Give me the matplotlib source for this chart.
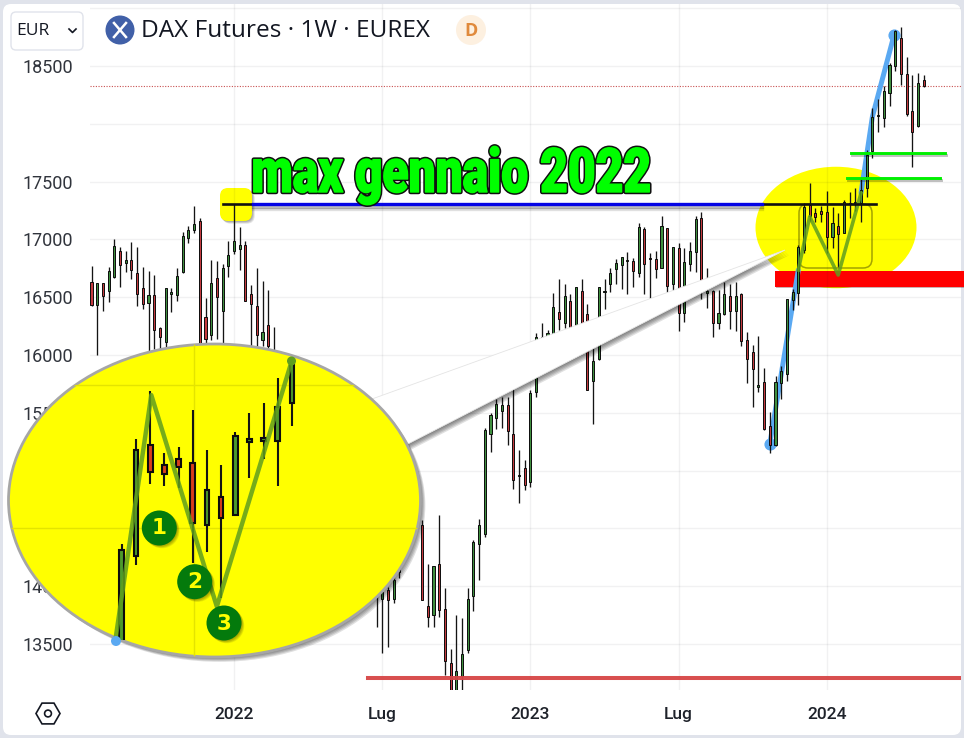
import numpy as np
import matplotlib
matplotlib.use("Agg")
import matplotlib.pyplot as plt
import matplotlib.patheffects as pe
from matplotlib.colors import to_rgb
from matplotlib.patches import Ellipse, FancyBboxPatch, Polygon, Circle, RegularPolygon, Rectangle
from matplotlib.transforms import Affine2D

# week number counted from the first candle of 2022 (the missing weeks sit behind the big yellow ellipse)
weeks = list(range(-25, 8)) + list(range(25, 30)) + list(range(33, 122))
opens = [16634,16435,16619,16555,16678,16903,16795,16824,16713,16576,
         16453,16523,16231,16114,16532,16523,16716,17014,17081,17160,
         16333,16173,16663,16377,16771,16903,16917,16955,16532,16421,
         16132,16263,15950,
         13950,13891,13969,13891,14120,14527,13833,13755,14188,13804,
         13336,13000,13220,13449,13914,14362,14454,15321,15451,15518,
         15567,15313,14954,15027,14902,15683,16072,16072,16159,16369,
         16274,16470,16251,16557,16355,15778,15963,16542,16615,16741,
         16779,16816,16816,16707,17087,16836,16828,16750,17096,16615,
         16923,16367,16785,16888,17188,16540,16557,16274,16355,16514,
         16384,16528,16130,16023,15727,15770,15389,15222,15755,15836,
         16476,16540,16909,17298,17226,17249,17234,17018,17116,17053,
         17309,17312,17312,17442,17768,18068,18048,18270,18503,18745,
         18428,18114,17984,18379]
highs = [16774,16619,16619,16765,17000,16935,16903,16976,16932,16765,
         16730,16690,16240,16584,16584,16757,17066,17116,17285,17189,
         16494,16824,16809,16786,16990,17306,17107,16984,16605,16757,
         16640,16561,16246,
         13970,13963,13992,14079,14252,14570,14194,14171,14613,13986,
         13457,13752,13723,13986,14397,14584,15365,15495,15616,15633,
         15639,15760,15177,15096,15697,16188,16274,16217,16540,16655,
         16612,16525,16586,16658,16441,16188,16586,16658,16750,16828,
         16845,16888,16836,17139,17105,16880,16900,17203,17096,16937,
         16966,16923,16975,17205,17240,16750,16563,16563,16629,16614,
         16629,16540,16196,16087,16165,15891,15505,15819,15905,16482,
         16568,16952,17318,17485,17269,17289,17419,17278,17226,17341,
         17407,17442,17529,17774,18140,18212,18327,18523,18812,18840,
         18575,18422,18437,18422]
lows = [16420,16000,16380,16459,16663,16590,16716,16657,16424,16400,
        16021,16050,16056,16059,16371,16468,16707,16970,17057,16000,
        16080,16129,16137,16080,16672,16876,16736,16465,16080,16080,
        16080,16050,15900,
        13645,13423,13472,13856,14073,13882,13645,13645,13738,13232,
        12938,12950,13000,13423,13790,14058,14425,15162,15356,15365,
        15220,14844,14720,14836,14859,15640,15986,15986,16145,16217,
        16231,16231,16245,16268,15698,15401,15957,16398,16542,16615,
        16568,16525,16591,16672,16525,16485,16669,16750,16534,16557,
        16208,16289,16730,16721,16485,16404,16153,16225,16346,16225,
        16211,16081,15761,15554,15683,15352,15156,15216,15620,15776,
        16390,16433,16880,17160,17154,17148,16886,16923,16765,17053,
        17183,17249,17154,17364,17707,17932,17970,18154,18460,18336,
        18068,17624,17970,18321]
closes = [16432,16619,16511,16730,16946,16780,16824,16736,16532,16444,
          16523,16216,16158,16584,16541,16687,17028,17078,17130,16050,
          16138,16619,16503,16757,16862,16984,16955,16468,16444,16173,
          16196,16080,16000,
          13920,13949,13882,14050,14150,13882,13738,14171,13795,13350,
          13050,13269,13414,13891,14382,14527,15350,15480,15573,15567,
          15344,14922,14966,14879,15674,16159,16159,16188,16413,16309,
          16514,16231,16586,16268,15698,15951,16586,16551,16707,16793,
          16845,16822,16727,17105,16785,16828,16744,17116,16597,16932,
          16367,16802,16900,17174,16563,16557,16274,16367,16525,16384,
          16514,16124,15966,15879,15738,15357,15222,15764,15865,16482,
          16548,16932,17278,17203,17197,17220,17024,17139,17044,17327,
          17318,17321,17428,17730,18062,18076,18284,18509,18806,18428,
          18085,17932,18350,18330]

price_ticks = [13500, 14000, 14500, 15000, 15500, 16000, 16500, 17000, 17500, 18000, 18500, 19000]
price_labels = ["13500", "14000", "14500", "15000", "15500", "16000", "16500", "17000", "17500", "", "18500", ""]
time_ticks = [0, 26, 52, 78, 104]
time_labels = ["2022", "Lug", "2023", "Lug", "2024"]

# drawn levels and trend lines on the chart
max_level = 17306
last_price = 18331
floor_level = 13202
green_levels = [17750, 17531]
blue_leg1_w = [94, 99]
blue_leg1_p = [15230, 16735]
blue_leg2_w = [110, 112, 115.8]
blue_leg2_p = [17401, 18061, 18768]
v_weeks = [99, 101, 106, 110]
v_prices = [16735, 17197, 16692, 17400]
inset_v_weeks = [98.6, 101.08, 105.7, 111]
inset_v_prices = [16635, 17471, 16734, 17593]

W, H = 964, 738
fig = plt.figure(figsize=(W / 100, H / 100), dpi=100, facecolor="#e0e3eb")
UI_FONT = ["Open Sans", "DejaVu Sans"]
AXIS_FONT = ["Roboto", "DejaVu Sans"]


def px_axes(z):
    a = fig.add_axes([0, 0, 1, 1], zorder=z)
    a.set_xlim(0, W)
    a.set_ylim(H, 0)
    a.axis("off")
    return a


def rect_axes(x0, y0, x1, y1, z):
    return fig.add_axes([x0 / W, 1 - y1 / H, (x1 - x0) / W, (y1 - y0) / H], zorder=z)


def soft_shadow(d=4, a=0.1):
    fx = [pe.SimplePatchShadow(offset=(d * k / 5, -d * k / 5), alpha=a, shadow_rgbFace="k") for k in (5, 4, 3, 2, 1)]
    return fx + [pe.Normal()]


def candles(ax, width, lw, wick_lw, up, down):
    w = np.array(weeks)
    o, h, l, c = map(np.array, (opens, highs, lows, closes))
    rising = c >= o
    ax.vlines(w, l, h, color="#141414", lw=wick_lw, zorder=4)
    ax.bar(w, np.abs(c - o), width, bottom=np.minimum(o, c), color=np.where(rising, up, down),
           edgecolor="#0c0c0c", linewidth=lw, zorder=5)


# the headline font in the picture is an Impact look-alike, so stretch the glyphs upwards
class TallOutline(pe.AbstractPathEffect):
    def __init__(self, base_y, ky, edge, edge_lw, fat_lw):
        super().__init__()
        self.base_y, self.ky, self.edge, self.edge_lw, self.fat_lw = base_y, ky, to_rgb(edge), edge_lw, fat_lw

    def draw_path(self, renderer, gc, tpath, affine, rgbFace):
        tall = affine + Affine2D().translate(0, -self.base_y).scale(1, self.ky).translate(0, self.base_y)
        for color, lw in ((self.edge, self.edge_lw), (rgbFace[:3], self.fat_lw)):
            g = renderer.new_gc()
            g.copy_properties(gc)
            g.set_foreground(color)
            g.set_linewidth(lw)
            g.set_joinstyle("round")
            renderer.draw_path(g, tpath, tall, color)
            g.restore()
        renderer.draw_path(gc, tpath, tall, rgbFace)


# ---- background layer
under = px_axes(0)
under.add_patch(FancyBboxPatch((7, 8), 950, 723, boxstyle="round,pad=4,rounding_size=8", fc="white", ec="none"))
under.add_patch(Ellipse((836, 227.5), 161, 121.5, fc="#ffff00", ec="none"))
under.add_patch(FancyBboxPatch((804, 209), 63, 54, boxstyle="round,pad=5,rounding_size=9",
                               fc="none", ec=(0.35, 0.35, 0, 0.55), lw=1.1))
under.add_patch(Rectangle((775, 270.5), 189, 16.5, fc="#ff0000", ec="none", zorder=3,
                          path_effects=[pe.SimplePatchShadow(offset=(1, -1), alpha=0.3), pe.Normal()]))
under.add_patch(FancyBboxPatch((225, 193), 22, 23, boxstyle="round,pad=5,rounding_size=8", fc="#ffff00", ec="none",
                               path_effects=soft_shadow(2, 0.08), zorder=3))

# ---- main chart
ax = rect_axes(90, 4, 961, 690, 1)
ax.patch.set_alpha(0)
ax.set_xlim((90 - 234) / 5.7, (961 - 234) / 5.7)
ax.set_ylim(18500 - (690 - 66) * 8.65, 18500 + 62 * 8.65)
ax.set_yticks(price_ticks, price_labels, family=AXIS_FONT, fontsize=13, color="#30343c")
ax.set_xticks(time_ticks, time_labels, family=AXIS_FONT, fontsize=12.5, color="#1e222a", fontweight="medium")
ax.tick_params(length=0)
ax.tick_params(axis="y", pad=12)
ax.tick_params(axis="x", pad=12)
ax.grid(True, color="#131722", alpha=0.06, lw=1)
ax.set_axisbelow(True)
for s in ax.spines.values():
    s.set_visible(False)

ax.axhline(last_price, color="#c85050", lw=0.8, ls=(0, (1, 1.4)), zorder=2)
ax.plot(blue_leg1_w, blue_leg1_p, color="#5aa9f2", lw=3.6, solid_capstyle="round", zorder=3)
ax.plot(blue_leg2_w, blue_leg2_p, color="#5aa9f2", lw=3.6, solid_capstyle="round", zorder=3)
ax.scatter([blue_leg1_w[0], blue_leg2_w[-1]], [blue_leg1_p[0], blue_leg2_p[-1]], s=60, color="#5aa9f2", zorder=3)
candles(ax, 0.38, 0.7, 0.95, "#3f8f3f", "#c43a3f")
ax.plot(v_weeks, v_prices, color="#5f9e1f", lw=2.6, alpha=0.85, zorder=6)
ax.plot([(222.7 - 234) / 5.7, (876 - 234) / 5.7], [max_level, max_level], color="#111111", lw=1.9, zorder=7)
ax.plot([(253 - 234) / 5.7, (762 - 234) / 5.7], [max_level, max_level], color="#0505e6", lw=2.4, zorder=8,
        path_effects=[pe.SimpleLineShadow(offset=(0, -2), alpha=0.25), pe.SimpleLineShadow(offset=(0, -3.5), alpha=0.12), pe.Normal()])
ax.plot([(368 - 234) / 5.7, ax.get_xlim()[1]], [floor_level, floor_level], color="#d64545", lw=2.9, alpha=0.95, zorder=6)
ax.plot([(851 - 234) / 5.7, (945 - 234) / 5.7], [green_levels[0]] * 2, color="#00f000", lw=2.1, zorder=8,
        path_effects=[pe.SimpleLineShadow(offset=(1, -1.5), alpha=0.25), pe.Normal()])
ax.plot([(847 - 234) / 5.7, (940 - 234) / 5.7], [green_levels[1]] * 2, color="#00f000", lw=2.1, zorder=8,
        path_effects=[pe.SimpleLineShadow(offset=(1, -1.5), alpha=0.25), pe.Normal()])

# ---- callout: white wedge + big ellipse
over = px_axes(2)
over.add_patch(Polygon([(785, 250), (372, 399), (404, 446)], closed=True, fc="white", ec="#e4e4e4", lw=0.6,
                       path_effects=soft_shadow(3.5, 0.12)))
big = Ellipse((214.5, 500.5), 412, 313, fc="#ffff00", ec="#a6a6a6", lw=2, path_effects=soft_shadow(3.5, 0.12))
over.add_patch(big)
for y in (385, 528):
    ln, = over.plot([0, 430], [y, y], color="#e4e400", lw=1)
    ln.set_clip_path(big)
ln, = over.plot([193.6, 193.6], [340, 660], color="#e4e400", lw=1)
ln.set_clip_path(big)

# zoomed copy of the same candles
inset = rect_axes(114.7, 360, 297.7, 640, 3)
inset.patch.set_alpha(0)
inset.axis("off")
inset.set_xlim(98.5, 111.4)
inset.set_ylim(17419 - (640 - 410) / 0.287, 17419 + (410 - 360) / 0.287)
candles(inset, 0.33, 1.5, 1.5, "#4d9a2c", "#d8401c")
inset.plot(inset_v_weeks, inset_v_prices, color="#5f9e1f", lw=3.2, alpha=0.85, zorder=6, clip_on=False)

# ---- top annotations
top = px_axes(4)
top.add_patch(Circle((116, 641), 5, fc="#5aa9f2", ec="none"))
top.add_patch(Circle((291.5, 361), 4.5, fc="#5f9e1f", ec="none"))
for (cx, cy), label in zip([(159.3, 528), (194.7, 581.7), (224, 623)], ["1", "2", "3"]):
    top.add_patch(Circle((cx, cy), 17.5, fc="#047a0c", ec="none", path_effects=soft_shadow(2, 0.08)))
    top.text(cx, cy + 0.5, label, color="#ffff00", ha="center", va="center", fontsize=15.5, fontweight="bold",
             family="DejaVu Sans")

top.text(451, 192, "max gennaio 2022", color="#00ff00", ha="center", va="baseline", fontsize=34.5, fontweight=900,
         family=["Roboto", "DejaVu Sans"],
         path_effects=[TallOutline(H - 192, 1.28, "#101010", 3.2, 1.0)])

# header
top.add_patch(FancyBboxPatch((14, 15), 66, 32, boxstyle="round,pad=3,rounding_size=5", fc="white", ec="#e0e3eb", lw=1))
top.text(16, 31, "EUR", color="#131722", ha="left", va="center", fontsize=12.5, family=UI_FONT)
top.plot([69, 72.5, 76], [29, 32.5, 29], color="#131722", lw=1.2)
top.add_patch(Circle((120, 30), 14.5, fc="#4160a8", ec="none"))
top.plot([114, 126], [23, 37], color="white", lw=1.8)
top.plot([114, 126], [37, 23], color="white", lw=1.8)
top.text(141, 31, "DAX Futures · 1W · EUREX", color="#131722", ha="left", va="center", fontsize=17.6, family=UI_FONT)
top.add_patch(Circle((471, 30), 15, fc="#fdf0e0", ec="none"))
top.text(471, 30.5, "D", color="#e08a3c", ha="center", va="center", fontsize=13, fontweight="bold", family=UI_FONT)

# layout icon at the bottom left
top.add_patch(RegularPolygon((48, 713.5), 6, radius=12, orientation=np.pi / 6, fc="none", ec="#131722", lw=1.2))
top.add_patch(Circle((48, 713.5), 3.4, fc="none", ec="#131722", lw=1.2))

fig.savefig("out.png", dpi=100, facecolor=fig.get_facecolor())
